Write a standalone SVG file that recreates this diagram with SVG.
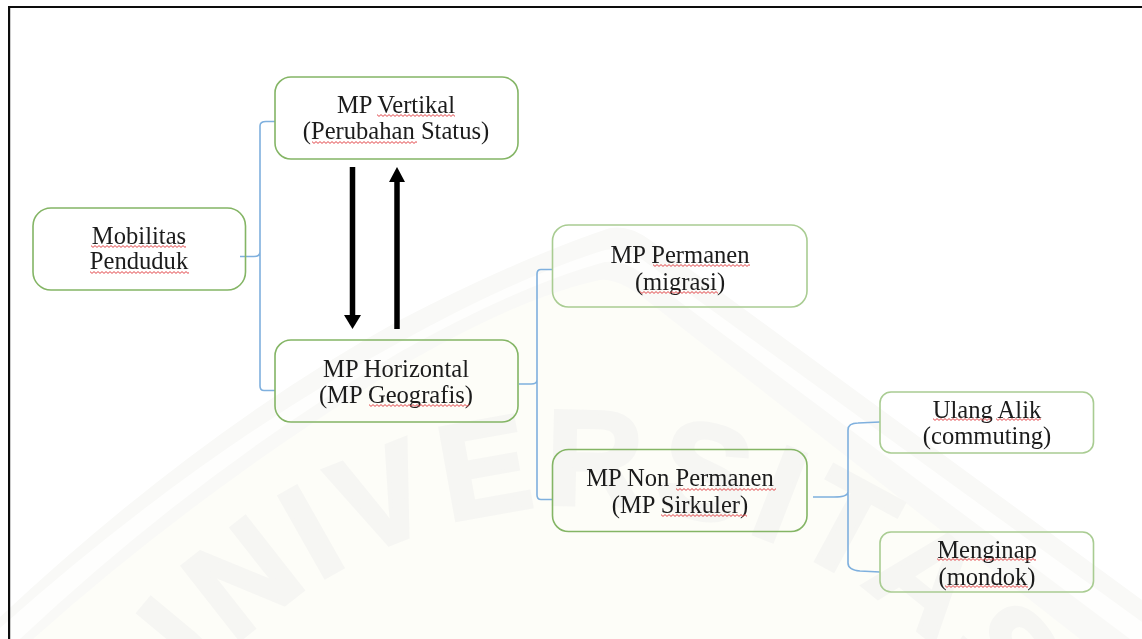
<svg xmlns="http://www.w3.org/2000/svg" width="1142" height="639" viewBox="0 0 1142 639">
<style>
.box{fill:none;stroke:#84b565;stroke-width:1.6}
.lt{stroke:#a9cc92}
.t{font-family:"Liberation Serif","Times New Roman",serif;font-size:24.6px;fill:#1a1a1a;text-anchor:middle}
.c{fill:none;stroke:#7fb0de;stroke-width:1.6}
.a{stroke:#000;stroke-width:5.500;fill:none}
.h{fill:#000;stroke:none}
.sq{fill:url(#sq)}
.wm{font-family:"Liberation Sans",Arial,sans-serif;font-weight:700;font-size:135px;letter-spacing:8px;fill:#f6f6f3;stroke:#f6f6f3;stroke-width:4;text-anchor:middle}
</style>
<defs>
<pattern id="sq" width="4" height="3" patternUnits="userSpaceOnUse"><path d="M0 .6L2 2.400L4 .6" fill="none" stroke="#e2474b" stroke-width="1"/></pattern>
<path id="arc" d="M82 1008A503 503 0 0 1 1088 1008"/>
<filter id="soft" x="0" y="0" width="1" height="1"><feGaussianBlur stdDeviation="0.45"/></filter>
</defs>
<rect width="1142" height="639" fill="#fff"/>
<g id="watermark">
<path d="M0 617Q200 430 400 320Q520 258 610 228Q630 225 650 240L1142 600V639H0Z" fill="#f9f9f7"/>
<path d="M0 628Q200 450 400 342Q520 276 605 250Q625 247 640 258L1142 622V639H0Z" fill="#fefefd"/>
<path d="M20 639Q200 470 400 352Q520 285 605 262Q622 260 640 272L1130 639Z" fill="#f9f9f7"/>
<path d="M33 639Q200 490 400 367Q520 297 600 280Q615 278 640 295L1080 639Z" fill="#fdfdf8"/>
<text class="wm"><textPath href="#arc" startOffset="50%">UNIVERSITAS</textPath></text>
</g>
<g filter="url(#soft)">
<path d="M8.700 639V6.500H1142" fill="none" stroke="#111" stroke-width="3"/>
<g id="connectors">
<path class="c" d="M240 256.500H254Q260 256.500 260 252M260 252V126Q260 121.500 266 121.500H275M260 252V386Q260 390.500 264 390.500H275"/>
<path class="c" d="M519 384H531Q537 384 537 380M537 380V274Q537 269.500 541 269.500H552M537 380V495Q537 499.500 541 499.500H552"/>
<path class="c" d="M813 497H834Q848 497 848 492M848 492V430Q848 423 858 423L880 422M848 492V563Q848 570 860 571L880 572"/>
<path class="a" d="M352.500 167V316"/>
<path class="h" d="M344 315H361L352.500 329Z"/>
<path class="a" d="M397 329V181"/>
<path class="h" d="M389 182H405L397 167Z"/>
</g>
<g id="mobilitas">
<rect class="box" x="33" y="208" width="212.500" height="82" rx="18"/>
<text class="t" x="139" y="244">Mobilitas</text><text class="t" x="139" y="269">Penduduk</text>
<rect class="sq" width="95" height="3" transform="translate(91 245)"/><rect class="sq" width="99" height="3" transform="translate(90 271)"/>
</g>
<g id="vertikal">
<rect class="box" x="275" y="77" width="243" height="82" rx="16"/>
<text class="t" x="396" y="113">MP Vertikal</text><text class="t" x="396" y="139">(Perubahan Status)</text>
<rect class="sq" width="78" height="3" transform="translate(377 114)"/><rect class="sq" width="105" height="3" transform="translate(312 141)"/>
</g>
<g id="horizontal">
<rect class="box" x="275" y="340" width="243" height="82" rx="16"/>
<text class="t" x="396" y="377">MP Horizontal</text><text class="t" x="396" y="403">(MP Geografis)</text>
<rect class="sq" width="100" height="3" transform="translate(369 404)"/>
</g>
<g id="permanen">
<rect class="box lt" x="552.500" y="225" width="254.500" height="82" rx="16"/>
<text class="t" x="680" y="263">MP Permanen</text><text class="t" x="680" y="290">(migrasi)</text>
<rect class="sq" width="97" height="3" transform="translate(653 264)"/><rect class="sq" width="78" height="3" transform="translate(640 291)"/>
</g>
<g id="nonpermanen">
<rect class="box" x="552.500" y="449.500" width="254.500" height="82" rx="16"/>
<text class="t" x="680" y="486">MP Non Permanen</text><text class="t" x="680" y="513">(MP Sirkuler)</text>
<rect class="sq" width="100" height="3" transform="translate(676 488)"/><rect class="sq" width="86" height="3" transform="translate(661 514)"/>
</g>
<g id="ulang">
<rect class="box lt" x="880" y="392" width="213.500" height="61" rx="11"/>
<text class="t" x="987" y="418">Ulang Alik</text><text class="t" x="987" y="444">(commuting)</text>
<rect class="sq" width="58" height="3" transform="translate(933 418)"/><rect class="sq" width="45" height="3" transform="translate(996 418)"/>
</g>
<g id="menginap">
<rect class="box lt" x="880" y="532" width="213.500" height="60" rx="11"/>
<text class="t" x="987" y="558">Menginap</text><text class="t" x="987" y="585">(mondok)</text>
<rect class="sq" width="99" height="3" transform="translate(937 558)"/><rect class="sq" width="83" height="3" transform="translate(945 585)"/>
</g>
</g>
</svg>
